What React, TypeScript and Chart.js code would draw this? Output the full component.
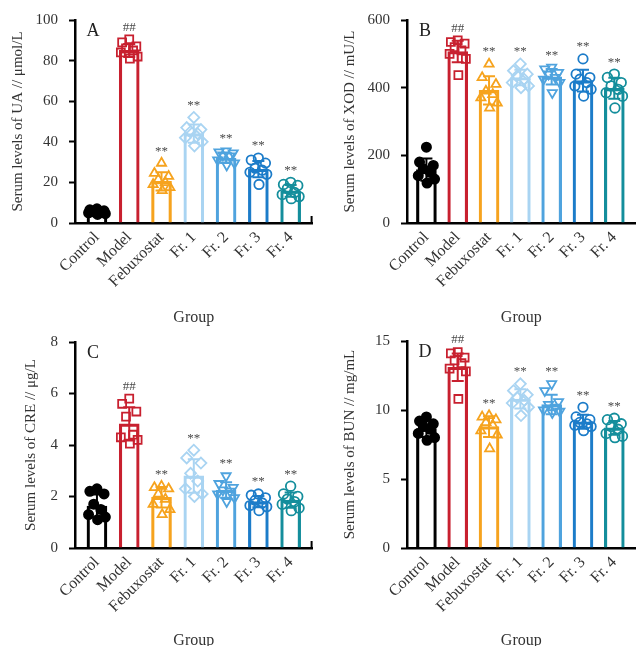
import React, { useEffect, useRef } from 'react';
import { Chart, registerables } from 'chart.js';

Chart.register(...registerables);

// ---------- data ----------
const groups = ['Control', 'Model', 'Febuxostat', 'Fr. 1', 'Fr. 2', 'Fr. 3', 'Fr. 4'];
const significance = ['', '##', '**', '**', '**', '**', '**'];

// Panel A: UA (μmol/L)
const uaMean = [5.5, 85, 20.5, 44, 32, 26.5, 15.8];
const uaSD = [1.0, 3.2, 4.5, 4.5, 2.4, 4.0, 2.9];
const uaPoints = [
  [7.0, 6.5, 6.0, 5.5, 5.2, 5.0, 4.6, 4.2],
  [90.5, 89, 87, 86, 85, 84, 82, 81],
  [29.5, 24.5, 23, 21.5, 20, 19, 17.5, 16],
  [52, 47, 46, 45, 44, 42, 40, 38],
  [35.5, 35, 34.5, 33.5, 33, 31, 29.5, 28.5],
  [32, 31, 29.5, 27, 26, 25, 24, 19],
  [20, 19, 18.5, 17, 15, 14, 13, 12],
];
const uaTicks = { max: 100, step: 20 };

// Panel B: XOD (mU/L)
const xodMean = [158, 507, 392, 430, 432, 421, 398];
const xodSD = [33, 32, 42, 23, 23, 32, 31];
const xodPoints = [
  [224, 180, 170, 160, 150, 140, 130, 118],
  [540, 535, 530, 520, 510, 500, 485, 437],
  [470, 430, 410, 390, 380, 370, 355, 340],
  [470, 450, 440, 435, 425, 415, 405, 400],
  [460, 455, 445, 440, 430, 425, 415, 385],
  [485, 440, 430, 425, 415, 405, 395, 375],
  [440, 430, 415, 405, 395, 385, 375, 340],
];
const xodTicks = { max: 600, step: 200 };

// Panel C: CRE (μg/L)
const creMean = [1.63, 4.82, 1.97, 2.8, 2.25, 1.8, 1.86];
const creSD = [0.45, 0.65, 0.4, 0.65, 0.3, 0.22, 0.3];
const crePoints = [
  [2.3, 2.2, 2.1, 1.7, 1.5, 1.3, 1.2, 1.1],
  [5.8, 5.6, 5.3, 5.1, 4.4, 4.3, 4.2, 4.05],
  [2.4, 2.35, 2.3, 2.1, 1.9, 1.7, 1.5, 1.3],
  [3.8, 3.5, 3.3, 2.9, 2.6, 2.3, 2.1, 2.0],
  [2.8, 2.5, 2.35, 2.25, 2.2, 2.1, 1.95, 1.8],
  [2.1, 2.05, 1.95, 1.85, 1.75, 1.65, 1.6, 1.45],
  [2.4, 2.1, 2.0, 1.9, 1.8, 1.7, 1.55, 1.45],
];
const creTicks = { max: 8, step: 2 };

// Panel D: BUN (mg/mL)
const bunMean = [8.65, 13.1, 8.8, 10.8, 10.4, 9.15, 8.7];
const bunSD = [0.6, 1.0, 0.75, 0.7, 0.7, 0.5, 0.5];
const bunPoints = [
  [9.5, 9.2, 9.0, 8.8, 8.6, 8.3, 8.0, 7.8],
  [14.2, 14.1, 13.8, 13.6, 13.4, 13.0, 12.8, 10.8],
  [9.6, 9.5, 9.3, 9.1, 8.9, 8.5, 8.2, 7.2],
  [11.9, 11.4, 11.1, 10.9, 10.7, 10.5, 10.2, 9.6],
  [11.9, 11.4, 10.6, 10.4, 10.2, 10.0, 9.9, 9.8],
  [10.2, 9.5, 9.3, 9.1, 9.0, 8.9, 8.8, 8.5],
  [9.4, 9.3, 9.0, 8.8, 8.6, 8.3, 8.1, 8.0],
];
const bunTicks = { max: 15, step: 5 };

// ---------- styles ----------
const FONT = '"Liberation Serif", "Times New Roman", serif';
const TEXT = '#333333';
const groupColors = ['#000000', '#c8202f', '#f6a31e', '#a9d4f2', '#4fa3de', '#1c7cc9', '#148e9c'];
const pointStyles = ['circle', 'rect', 'triangle', 'rectRot', 'triangle', 'circle', 'circle'];
const pointRotations = [0, 0, 0, 0, 180, 0, 0];
const pointRadii = [4.6, 5.6, 5.3, 5.5, 5.3, 4.7, 4.8];
const jitter = [0, -0.22, 0.22, -0.1, 0.12, -0.26, 0.26, 0.02];

const panels = [
  { letter: 'A', title: 'Serum levels of UA // μmol/L', mean: uaMean, sd: uaSD, points: uaPoints, ticks: uaTicks,
    box: { x: 0, y: 0, w: 320, h: 330, padTop: 16, padRight: 7, yWidth: 75, xHeight: 107, xMin: -0.68, xMax: 6.68, yTitlePad: 8.6, xTitlePad: 2.5, endTick: true } },
  { letter: 'B', title: 'Serum levels of XOD // mU/L', mean: xodMean, sd: xodSD, points: xodPoints, ticks: xodTicks,
    box: { x: 320, y: 0, w: 323, h: 330, padTop: 17, padRight: 0, yWidth: 87, xHeight: 107, xMin: -0.62, xMax: 6.68, yTitlePad: 20.6, xTitlePad: 2.5, endTick: false } },
  { letter: 'C', title: 'Serum levels of CRE // μg/L', mean: creMean, sd: creSD, points: crePoints, ticks: creTicks,
    box: { x: 0, y: 320, w: 320, h: 330, padTop: 22, padRight: 7, yWidth: 75, xHeight: 102, xMin: -0.68, xMax: 6.68, yTitlePad: 21.6, xTitlePad: 0, endTick: true } },
  { letter: 'D', title: 'Serum levels of BUN // mg/mL', mean: bunMean, sd: bunSD, points: bunPoints, ticks: bunTicks,
    box: { x: 320, y: 320, w: 323, h: 330, padTop: 21, padRight: 0, yWidth: 87, xHeight: 102, xMin: -0.62, xMax: 6.68, yTitlePad: 20.6, xTitlePad: 0, endTick: false } },
];

function makeOverlay(cfg: any) {
  return {
    id: 'overlay' + cfg.letter,
    afterDatasetsDraw(chart: any) {
      const { ctx, chartArea } = chart;
      const x = chart.scales.x;
      const y = chart.scales.y;
      ctx.save();
      cfg.mean.forEach((m: number, i: number) => {
        const px = x.getPixelForValue(i);
        const top = y.getPixelForValue(m + cfg.sd[i]);
        const bot = y.getPixelForValue(Math.max(0, m - cfg.sd[i]));
        ctx.strokeStyle = groupColors[i];
        ctx.lineWidth = 2;
        ctx.beginPath();
        ctx.moveTo(px, top);
        ctx.lineTo(px, bot);
        ctx.moveTo(px - 6, top);
        ctx.lineTo(px + 6, top);
        ctx.moveTo(px - 6, bot);
        ctx.lineTo(px + 6, bot);
        ctx.stroke();
        if (significance[i]) {
          const mx = Math.max(...cfg.points[i], m + cfg.sd[i]);
          const ty = y.getPixelForValue(mx) - 12;
          ctx.fillStyle = '#4a4a4a';
          ctx.font = `13px ${FONT}`;
          ctx.textAlign = 'center';
          ctx.textBaseline = 'middle';
          ctx.fillText(significance[i], px, ty);
        }
      });
      // panel letter
      ctx.fillStyle = '#222';
      ctx.font = `18px ${FONT}`;
      ctx.textAlign = 'center';
      ctx.textBaseline = 'middle';
      ctx.fillText(cfg.letter, chartArea.left + 18, chartArea.top + 11);
      // end tick on x axis
      if (cfg.box.endTick) {
        ctx.strokeStyle = '#000';
        ctx.lineWidth = 2;
        ctx.beginPath();
        ctx.moveTo(chartArea.right - 1, chartArea.bottom);
        ctx.lineTo(chartArea.right - 1, chartArea.bottom - 7);
        ctx.stroke();
      }
      ctx.restore();
    },
  };
}

function Panel({ cfg }: { cfg: any }) {
  const ref = useRef<HTMLCanvasElement | null>(null);
  const b = cfg.box;
  useEffect(() => {
    const datasets: any[] = [
      {
        type: 'bar',
        data: cfg.mean.map((m: number, i: number) => ({ x: i, y: m })),
        backgroundColor: 'rgba(255,255,255,0)',
        borderColor: groupColors,
        borderWidth: 2.5,
        barThickness: 20,
        order: 10,
      },
    ];
    cfg.points.forEach((vals: number[], i: number) => {
      datasets.push({
        type: 'scatter',
        data: vals.map((v, k) => ({ x: i + jitter[k], y: v })),
        pointStyle: pointStyles[i],
        rotation: pointRotations[i],
        radius: pointRadii[i],
        pointRadius: pointRadii[i],
        borderColor: groupColors[i],
        backgroundColor: i === 0 ? '#000000' : 'rgba(255,255,255,0)',
        pointBorderWidth: 1.8,
        borderWidth: 1.8,
        showLine: false,
        order: 0,
      });
    });
    const chart = new Chart(ref.current as HTMLCanvasElement, {
      type: 'bar',
      data: { datasets },
      options: {
        responsive: false,
        animation: false,
        devicePixelRatio: 1,
        layout: { padding: { left: 0, right: b.padRight, top: b.padTop, bottom: 0 } },
        plugins: { legend: { display: false }, tooltip: { enabled: false } },
        scales: {
          x: {
            type: 'linear',
            min: b.xMin,
            max: b.xMax,
            offset: false,
            afterBuildTicks: (s: any) => {
              s.ticks = groups.map((_, i) => ({ value: i }));
            },
            afterFit: (s: any) => {
              s.height = b.xHeight;
            },
            grid: { display: false, drawTicks: false },
            border: { display: true, color: '#000', width: 2.5 },
            ticks: {
              autoSkip: false,
              minRotation: 45,
              maxRotation: 45,
              padding: 5,
              color: TEXT,
              font: { family: FONT, size: 16 },
              callback: (v: any) => groups[v] ?? '',
            },
            title: {
              display: true,
              text: 'Group',
              color: TEXT,
              font: { family: FONT, size: 16 },
              padding: { top: 0, bottom: b.xTitlePad },
            },
          },
          y: {
            type: 'linear',
            min: 0,
            max: cfg.ticks.max,
            afterFit: (s: any) => {
              s.width = b.yWidth;
            },
            grid: { drawOnChartArea: false, drawTicks: true, tickLength: 6, tickWidth: 2, tickColor: '#000' },
            border: { display: true, color: '#000', width: 2.5 },
            ticks: { stepSize: cfg.ticks.step, padding: 11, color: TEXT, font: { family: FONT, size: 15 } },
            title: {
              display: true,
              text: cfg.title,
              color: TEXT,
              font: { family: FONT, size: 15 },
              padding: { top: b.yTitlePad, bottom: 0 },
            },
          },
        },
      } as any,
      plugins: [makeOverlay(cfg)],
    } as any);
    return () => chart.destroy();
  }, []);
  return (
    <canvas
      ref={ref}
      width={b.w}
      height={b.h}
      style={{ position: 'absolute', left: b.x, top: b.y, width: b.w, height: b.h }}
    />
  );
}

export default function App() {
  return (
    <div
      style={{
        position: 'fixed',
        left: 0,
        top: 0,
        width: 643,
        height: 646,
        overflow: 'hidden',
        background: '#ffffff',
      }}
    >
      {panels.map((p) => (
        <Panel key={p.letter} cfg={p} />
      ))}
    </div>
  );
}
